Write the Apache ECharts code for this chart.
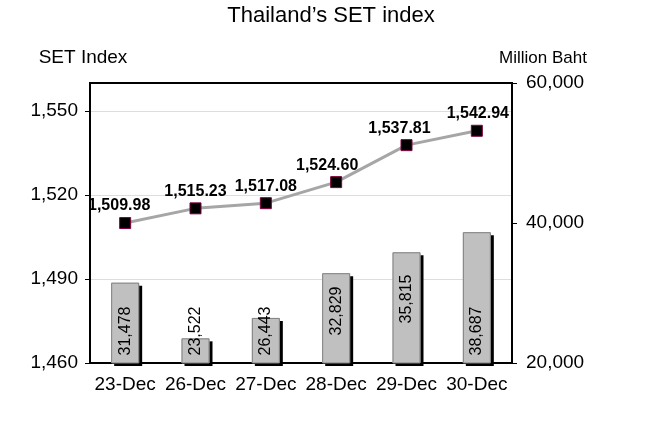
<!DOCTYPE html>
<html>
<head>
<meta charset="utf-8">
<script src="https://cdn.jsdelivr.net/npm/echarts@6/dist/echarts.min.js"></script>
<style>
html,body{margin:0;padding:0;background:#fff;}
#chart{width:662px;height:434px;}
</style>
</head>
<body>
<div id="chart"></div>
<script>
const categories = ['23-Dec', '26-Dec', '27-Dec', '28-Dec', '29-Dec', '30-Dec'];
const setIndex = [1509.98, 1515.23, 1517.08, 1524.60, 1537.81, 1542.94];
const turnover = [31478, 23522, 26443, 32829, 35815, 38687];
const leftTicks = [1460, 1490, 1520, 1550];
const rightTicks = [20000, 40000, 60000];

// label styling (not data)
const barLabelLift = [8, 8, 8, 28, 40, 8];
const lineLabelShift = [-6, 0, 0, -9, -7, 1];

function fmt(v, dec) {
  const s = Number(v).toFixed(dec);
  const parts = s.split('.');
  parts[0] = parts[0].replace(/\B(?=(\d{3})+(?!\d))/g, ',');
  return parts.join('.');
}

const FONT = "'Liberation Sans', Arial, sans-serif";
const chart = echarts.init(document.getElementById('chart'), null, {renderer: 'canvas'});

const option = {
  backgroundColor: '#fff',
  animation: false,
  textStyle: {fontFamily: FONT, color: '#000'},
  title: {
    text: 'Thailand\u2019s SET index',
    left: 'center',
    top: 0,
    textStyle: {fontFamily: FONT, fontSize: 22, fontWeight: 'normal', color: '#000'}
  },
  grid: {
    left: 90, right: 150, top: 83, bottom: 71,
    show: true, borderColor: '#000', borderWidth: 2, backgroundColor: 'transparent'
  },
  xAxis: {
    type: 'category',
    data: categories,
    axisLine: {lineStyle: {color: '#000', width: 2}},
    axisTick: {show: false},
    axisLabel: {fontFamily: FONT, fontSize: 19, color: '#000', margin: 12, interval: 0}
  },
  yAxis: [
    {
      type: 'value',
      min: 1460, max: 1560, interval: 30,
      name: 'SET Index',
      nameLocation: 'end',
      nameGap: 16,
      nameTextStyle: {fontFamily: FONT, fontSize: 19, color: '#000', align: 'center', padding: [0, 14, 0, 0]},
      axisLine: {show: true, lineStyle: {color: '#000', width: 2}},
      axisTick: {show: true, length: 5, lineStyle: {color: '#000'}, customValues: leftTicks},
      axisLabel: {fontFamily: FONT, fontSize: 19, color: '#000', margin: 12, customValues: leftTicks,
        formatter: v => fmt(v, 0)},
      splitLine: {show: true, lineStyle: {color: '#dddddd', width: 1}}
    },
    {
      type: 'value',
      min: 20000, max: 60000, interval: 20000,
      name: 'Million Baht',
      nameLocation: 'end',
      nameGap: 16,
      nameTextStyle: {fontFamily: FONT, fontSize: 17, color: '#000', align: 'center', padding: [0, 0, 0, 62]},
      position: 'right',
      axisLine: {show: true, lineStyle: {color: '#000', width: 2}},
      axisTick: {show: true, length: 5, lineStyle: {color: '#000'}, customValues: rightTicks},
      axisLabel: {fontFamily: FONT, fontSize: 19, color: '#000', margin: 14, customValues: rightTicks,
        formatter: v => fmt(v, 0)},
      splitLine: {show: false}
    }
  ],
  series: [
    {
      // bar fill with drop shadow
      type: 'bar',
      yAxisIndex: 1,
      barWidth: 28,
      data: turnover,
      itemStyle: {
        color: '#c0c0c0',
        borderWidth: 0,
        shadowColor: '#000',
        shadowOffsetX: 3,
        shadowOffsetY: 3,
        shadowBlur: 0
      },
      z: 2
    },
    {
      // bar outline + value labels
      type: 'bar',
      yAxisIndex: 1,
      barWidth: 28,
      barGap: '-100%',
      data: turnover.map((v, i) => ({
        value: v,
        label: {distance: barLabelLift[i]}
      })),
      itemStyle: {
        color: 'rgba(0,0,0,0)',
        borderColor: '#808080',
        borderWidth: 1
      },
      label: {
        show: true,
        position: 'insideBottom',
        rotate: 90,
        align: 'left',
        verticalAlign: 'middle',
        fontFamily: FONT,
        fontSize: 16,
        color: '#000',
        formatter: p => fmt(p.value, 0)
      },
      z: 3
    },
    {
      type: 'line',
      yAxisIndex: 0,
      data: setIndex.map((v, i) => ({
        value: v,
        label: {offset: [lineLabelShift[i], 0]}
      })),
      lineStyle: {color: '#a6a6a6', width: 3},
      symbol: 'rect',
      symbolSize: 11,
      itemStyle: {color: '#000', borderColor: '#800040', borderWidth: 1},
      label: {
        show: true,
        position: 'top',
        distance: 3,
        fontFamily: FONT,
        fontSize: 16,
        fontWeight: 'bold',
        color: '#000',
        formatter: p => fmt(p.value, 2)
      },
      z: 5
    }
  ]
};
chart.setOption(option);
</script>
</body>
</html>
